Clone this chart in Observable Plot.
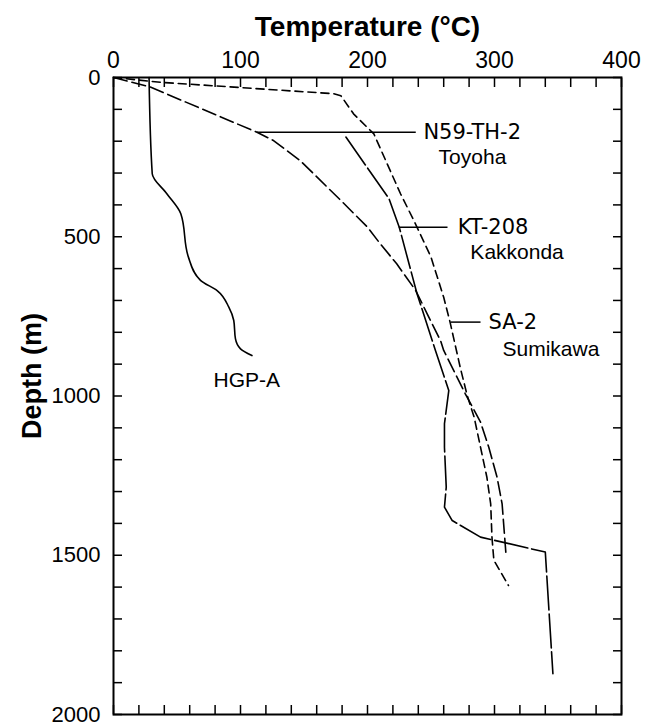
<!DOCTYPE html>
<html>
<head>
<meta charset="utf-8">
<script src="https://cdn.jsdelivr.net/npm/d3@7"></script>
<script src="https://cdn.jsdelivr.net/npm/@observablehq/plot@0.6"></script>
<style>
  html, body { margin: 0; padding: 0; background: #fff; }
</style>
</head>
<body>
<div id="chart"></div>
<script>
// ---- data (temperature °C, depth m) ----
const hgpTemp  = [28, 30.5, 42, 53, 59, 68.5, 81.6, 90.8, 94.7, 96, 100, 109];
const hgpDepth = [0, 302, 365, 428, 564, 637, 669, 721, 763, 820, 852, 873];

const toyohaTemp  = [0, 29, 113, 126, 147, 179, 200, 210, 223, 238, 247, 257.5, 260, 277, 289, 295.5, 302, 306, 309];
const toyohaDepth = [0, 30, 172, 198, 261, 386, 470, 522, 585, 669, 742, 826, 857, 993, 1082, 1161, 1255, 1339, 1495];

const kakkondaTemp  = [183, 217, 225, 239, 253.5, 264, 260.6, 260.6, 262, 260.6, 266.7, 289, 340, 346];
const kakkondaDepth = [187, 381, 470, 679, 857, 983, 1087, 1161, 1286, 1349, 1391, 1443, 1490, 1872];

const sumikawaTemp  = [0, 37, 173.5, 179, 189, 205, 226, 236.5, 250, 260, 265, 273, 278.5, 284, 289, 294, 297, 298, 299.5, 311];
const sumikawaDepth = [0, 15, 51, 57, 114, 177, 365, 449, 564, 690, 768, 910, 998, 1067, 1161, 1255, 1339, 1443, 1516, 1595];

// labels
const codeNames  = ["N59-TH-2", "KT-208", "SA-2"];
const codeTemp   = [244, 271, 295.3];
const codeDepth  = [173, 471, 769];
const fieldNames = ["Toyoha", "Kakkonda", "Sumikawa"];
const fieldTemp  = [256, 281, 306.3];
const fieldDepth = [251, 549, 854];
const hgpLabel = ["HGP-A"];
const hgpLabelTemp = [105];
const hgpLabelDepth = [951];

// leader lines
const leaderT1 = [113, 224.6, 265.4];
const leaderT2 = [238, 263, 289];
const leaderD  = [172, 470, 768];

// axis ticks
const xLabelTicks = [0, 100, 200, 300, 400];
const xMinorTicks = d3.range(0, 401, 20);
const yLabelTicks = [0, 500, 1000, 1500, 2000];
const yMinorTicks = d3.range(0, 2001, 100);

const rows = (T, D) => T.map((t, i) => ({t, d: D[i]}));
const hgp = rows(hgpTemp, hgpDepth);
const toyoha = rows(toyohaTemp, toyohaDepth);
const kakkonda = rows(kakkondaTemp, kakkondaDepth);
const sumikawa = rows(sumikawaTemp, sumikawaDepth);
const codes = codeNames.map((name, i) => ({name, t: codeTemp[i], d: codeDepth[i]}));
const fields = fieldNames.map((name, i) => ({name, t: fieldTemp[i], d: fieldDepth[i]}));
const hgpLab = hgpLabel.map((name, i) => ({name, t: hgpLabelTemp[i], d: hgpLabelDepth[i]}));
const leaders = leaderD.map((d, i) => ({t1: leaderT1[i], t2: leaderT2[i], d}));

const blank = () => "";
const plain = d3.format("d");

const chart = Plot.plot({
  width: 651,
  height: 728,
  marginLeft: 113,
  marginRight: 30,
  marginTop: 77,
  marginBottom: 14,
  style: {fontFamily: "'Liberation Sans', Arial, sans-serif", background: "#fff", color: "#000"},
  x: {domain: [0, 400]},
  y: {domain: [0, 2000], reverse: true},
  marks: [
    // axes
    Plot.axisX(xLabelTicks, {anchor: "top", tickSize: 0, tickPadding: 10, fontSize: 23, label: null, tickFormat: plain}),
    Plot.axisX(xMinorTicks, {anchor: "top", tickSize: -9, tickFormat: blank, label: null, strokeWidth: 1.5}),
    Plot.axisX(xMinorTicks, {anchor: "bottom", tickSize: -9, tickFormat: blank, label: null, strokeWidth: 1.5}),
    Plot.axisY(yLabelTicks, {anchor: "left", tickSize: 0, tickPadding: 13, fontSize: 22, label: null, tickFormat: plain}),
    Plot.axisY(yMinorTicks, {anchor: "left", tickSize: -9, tickFormat: blank, label: null, strokeWidth: 1.5}),
    Plot.axisY(yMinorTicks, {anchor: "right", tickSize: -9, tickFormat: blank, label: null, strokeWidth: 1.5}),
    Plot.frame({strokeWidth: 2}),
    // titles
    Plot.text(["Temperature (°C)"], {text: d => d, frameAnchor: "top", textAnchor: "middle", lineAnchor: "middle",
      dy: -50, fontSize: 28, fontWeight: "bold"}),
    Plot.text(["Depth (m)"], {text: d => d, frameAnchor: "left", textAnchor: "middle", lineAnchor: "middle",
      rotate: -90, dx: -81, dy: -20, fontSize: 27, fontWeight: "bold"}),
    // curves
    Plot.line(hgp, {x: "t", y: "d", curve: "monotone-y", strokeWidth: 1.6}),
    Plot.line(toyoha, {x: "t", y: "d", strokeWidth: 1.6, strokeDasharray: "14,5"}),
    Plot.line(kakkonda, {x: "t", y: "d", strokeWidth: 1.6, strokeDasharray: "34,4"}),
    Plot.line(sumikawa, {x: "t", y: "d", strokeWidth: 1.6, strokeDasharray: "8,5"}),
    // leaders
    Plot.link(leaders, {x1: "t1", x2: "t2", y1: "d", y2: "d", strokeWidth: 1.5}),
    // labels
    Plot.text(codes, {x: "t", y: "d", text: "name", textAnchor: "start", fontSize: 21, fontFamily: "'DejaVu Sans', sans-serif"}),
    Plot.text(fields, {x: "t", y: "d", text: "name", textAnchor: "start", fontSize: 21}),
    Plot.text(hgpLab, {x: "t", y: "d", text: "name", textAnchor: "middle", fontSize: 21})
  ]
});
document.getElementById("chart").appendChild(chart);
</script>
</body>
</html>
